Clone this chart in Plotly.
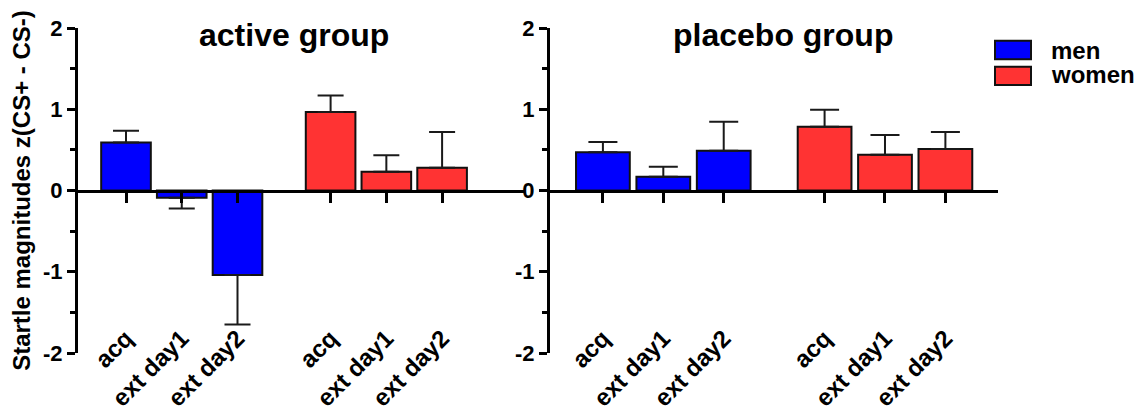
import plotly.graph_objects as go

# ---------------- data ----------------
categories = ["acq", "ext day1", "ext day2"]
active_men = [0.59, -0.09, -1.04]
active_men_err = [0.145, 0.13, 0.61]
active_women = [0.965, 0.23, 0.28]
active_women_err = [0.205, 0.205, 0.44]
placebo_men = [0.47, 0.17, 0.49]
placebo_men_err = [0.128, 0.123, 0.357]
placebo_women = [0.785, 0.44, 0.51]
placebo_women_err = [0.21, 0.243, 0.21]
panel_titles = ["active group", "placebo group"]
legend_names = ["men", "women"]
y_ticks = [-2, -1, 0, 1, 2]
y_label = "Startle magnitudes z(CS+ - CS-)"

# ---------------- style ----------------
BLUE = "#0000FF"
RED = "#FF3333"
FONT = "Liberation Sans, Arial, sans-serif"
PAGE_W, PAGE_H = 1146, 410
OFF = 8                      # default page body margin
W, H = PAGE_W - OFF, PAGE_H - OFF
PLOT_TOP, PLOT_BOT = 28, 353  # page pixels
MT, MB = PLOT_TOP - OFF, PAGE_H - PLOT_BOT
PH = H - MT - MB
GROUP_GAP = 1.67
BAR_W = 0.89

pos_men = [i for i in range(len(categories))]
pos_women = [i + len(categories) - 1 + GROUP_GAP for i in range(len(categories))]
all_pos = pos_men + pos_women
all_labels = categories + categories


def err(vals, errs, capw):
    up = [e if v >= 0 else 0 for v, e in zip(vals, errs)]
    dn = [0 if v >= 0 else e for v, e in zip(vals, errs)]
    return dict(type="data", symmetric=False, array=up, arrayminus=dn,
                color="#1a1a1a", thickness=2, width=capw)


def px_x(p):
    return (p - OFF) / W


def px_y(p):
    return 1 - (p - PLOT_TOP) / PH


fig = go.Figure()
# men bars live on the label axis, women bars on the zero-line axis (both share range)
panels = [
    (active_men, active_men_err, active_women, active_women_err, ("x", "x3"), "y", 13),
    (placebo_men, placebo_men_err, placebo_women, placebo_women_err, ("x2", "x4"), "y2", 14.5),
]
for (m, me, w, we, xas, ya, capw) in panels:
    for vals, errs, pos, col, xa in [(m, me, pos_men, BLUE, xas[0]), (w, we, pos_women, RED, xas[1])]:
        fig.add_trace(go.Bar(
            x=pos, y=vals, width=BAR_W, xaxis=xa, yaxis=ya,
            marker=dict(color=col, line=dict(color="#111111", width=2)),
            error_y=err(vals, errs, capw), showlegend=False, hoverinfo="skip"))

dom_left = [px_x(78), px_x(525)]
dom_right = [px_x(550), px_x(998)]
rng_left = [-0.861, 7.157]
rng_right = [-0.876, 6.541]
label_pos = 0.106

tickfont = dict(family=FONT, size=22, color="black", weight="bold")
xtickfont = dict(family=FONT, size=24, color="black", weight="bold")

common_label_axis = dict(anchor="free", position=label_pos, showline=False, ticks="",
                         tickvals=all_pos, ticktext=all_labels, tickangle=-45,
                         tickfont=xtickfont, showgrid=False, zeroline=False,
                         automargin=False)
common_zero_axis = dict(anchor="free", position=0.5, showline=True, linewidth=3,
                        linecolor="black", ticks="outside", ticklen=10, tickwidth=2.5,
                        tickcolor="black", tickvals=all_pos, showticklabels=False,
                        showgrid=False, zeroline=False, automargin=False)
common_y = dict(range=[-2, 2], domain=[0, 1], showline=True, linewidth=3, linecolor="black",
                ticks="outside", ticklen=8, tickwidth=2.5, tickcolor="black",
                tickvals=y_ticks, ticktext=[str(t) for t in y_ticks], tickfont=tickfont,
                minor=dict(ticks="outside", ticklen=5, tickwidth=2.5, tickcolor="black",
                           dtick=0.5, tick0=0),
                showgrid=False, zeroline=False, automargin=False)

fig.update_layout(
    width=W, height=H,
    margin=dict(l=0, r=0, t=MT, b=MB, autoexpand=False),
    plot_bgcolor="white", paper_bgcolor="white",
    barmode="overlay",
    xaxis=dict(domain=dom_left, range=rng_left, **common_label_axis),
    xaxis2=dict(domain=dom_right, range=rng_right, **common_label_axis),
    xaxis3=dict(domain=dom_left, range=rng_left, overlaying="x", **common_zero_axis),
    xaxis4=dict(domain=dom_right, range=rng_right, overlaying="x2", **common_zero_axis),
    yaxis=dict(anchor="x", title=dict(text=y_label, font=dict(family=FONT, size=24,
                                                              color="black", weight="bold"),
                                      standoff=6), **common_y),
    yaxis2=dict(anchor="x2", **common_y),
)

# panel titles
for t, cx in zip(panel_titles, [294, 783]):
    fig.add_annotation(text=t, x=px_x(cx), y=px_y(35), xref="paper", yref="paper",
                       showarrow=False, xanchor="center", yanchor="middle",
                       font=dict(family=FONT, size=32, color="black", weight="bold"))

# legend (drawn as boxes + labels)
leg = [(legend_names[0], BLUE, 40.7, 59.3, 49.7), (legend_names[1], RED, 66.7, 85, 74)]
for name, col, y0, y1, yc in leg:
    fig.add_shape(type="rect", xref="paper", yref="paper",
                  x0=px_x(995), x1=px_x(1031), y0=px_y(y1), y1=px_y(y0),
                  fillcolor=col, line=dict(color="#111111", width=2))
    fig.add_annotation(text=name, x=px_x(1050), y=px_y(yc), xref="paper", yref="paper",
                       showarrow=False, xanchor="left", yanchor="middle",
                       height=22, valign="middle", borderpad=0,
                       font=dict(family=FONT, size=24, color="black", weight="bold"))

fig.write_html("out.html")
